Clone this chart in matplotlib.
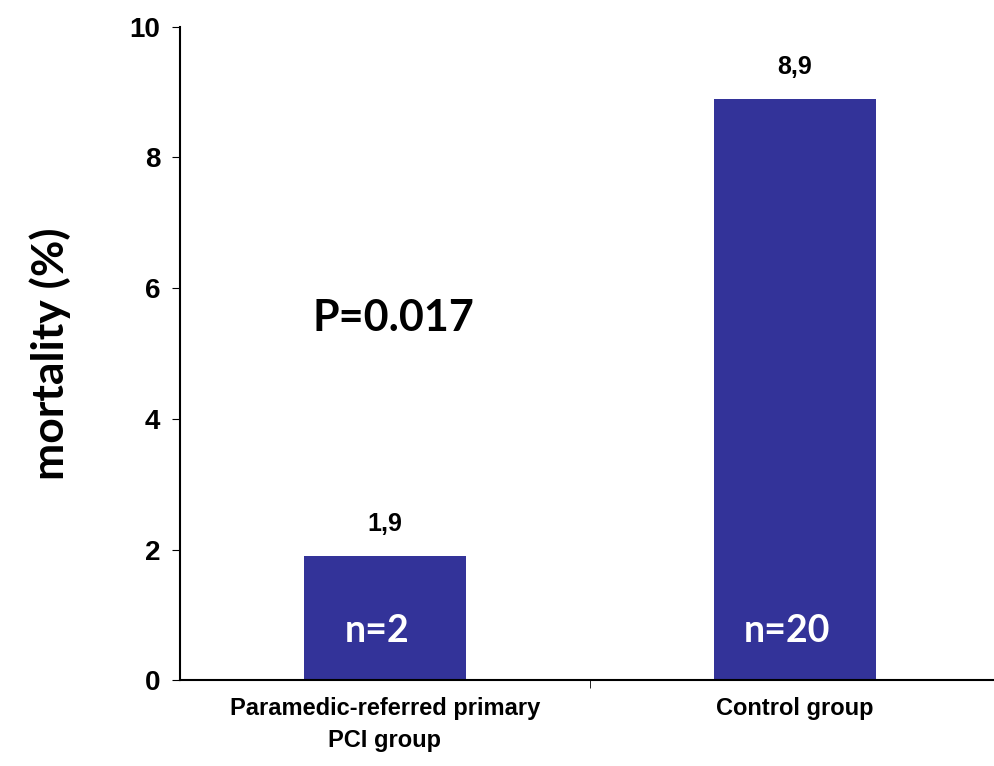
import matplotlib.pyplot as plt

categories = ["Paramedic-referred primary\nPCI group", "Control group"]
mortality = [1.9, 8.9]
value_labels = ["1,9", "8,9"]
n_labels = ["n=2", "n=20"]

fig = plt.figure(figsize=(9.94, 7.66), dpi=100)
ax = fig.add_axes([0.181, 0.112, 0.819, 0.853])

x = [0, 1]
ax.bar(x, mortality, width=0.395, color="#333399")
for xi, v, lab, n in zip(x, mortality, value_labels, n_labels):
    ax.text(xi, v + 0.3, lab, ha="center", va="bottom", fontsize=18,
            fontweight="bold", family="Liberation Sans")
    ax.text(xi - 0.02, 0.75, n, ha="center", va="center", fontsize=27,
            fontweight="bold", color="white", family="Lato")

ax.text(0.02, 5.55, "P=0.017", ha="center", va="center", fontsize=31,
        fontweight="bold", family="Lato")

ax.set_xlim(-0.5, 1.485)
ax.set_ylim(0, 10)
ax.set_yticks(range(0, 11, 2))
ax.set_xticks(x)
ax.set_xticklabels(categories, fontsize=17, fontweight="bold", family="Liberation Sans",
                   linespacing=1.5)
ax.set_xticks([0.5], minor=True)
ax.tick_params(axis="x", which="major", length=0, pad=12)
ax.tick_params(axis="x", which="minor", length=6, direction="out")
ax.tick_params(axis="y", length=6, labelsize=20, direction="out", pad=8)
for t in ax.get_yticklabels():
    t.set_fontweight("bold")
    t.set_family("Liberation Sans")
ax.set_ylabel("mortality (%)", fontsize=32, fontweight="bold", family="Lato", labelpad=42)
ax.spines["top"].set_visible(False)
ax.spines["right"].set_visible(False)
ax.spines["left"].set_linewidth(1.5)
ax.spines["bottom"].set_linewidth(1.5)

fig.savefig("out.png", dpi=100)
